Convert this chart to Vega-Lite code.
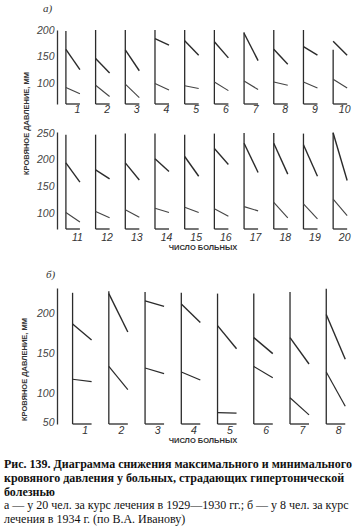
{
  "$schema": "https://vega.github.io/schema/vega-lite/v6.json",
  "background": "white",
  "padding": {"left": 4, "top": 3, "right": 2, "bottom": 2},
  "datasets": {
    "a1": [
      {"patient": 1, "top": 198, "sys_before": 164, "sys_after": 126, "dia_before": 93, "dia_after": 81},
      {"patient": 2, "top": 200, "sys_before": 147, "sys_after": 120, "dia_before": 97, "dia_after": 76},
      {"patient": 3, "top": 200, "sys_before": 163, "sys_after": 124, "dia_before": 99, "dia_after": 74},
      {"patient": 4, "top": 200, "sys_before": 184, "sys_after": 172, "dia_before": 100, "dia_after": 88},
      {"patient": 5, "top": 200, "sys_before": 180, "sys_after": 153, "dia_before": 96, "dia_after": 91},
      {"patient": 6, "top": 200, "sys_before": 178, "sys_after": 148, "dia_before": 103, "dia_after": 87},
      {"patient": 7, "top": 196, "sys_before": 194, "sys_after": 143, "dia_before": 105, "dia_after": 89},
      {"patient": 8, "top": 200, "sys_before": 164, "sys_after": 136, "dia_before": 103, "dia_after": 97},
      {"patient": 9, "top": 200, "sys_before": 169, "sys_after": 153, "dia_before": 103, "dia_after": 92},
      {"patient": 10, "top": 163, "sys_before": 179, "sys_after": 153, "dia_before": 108, "dia_after": 92}
    ],
    "a2": [
      {"patient": 11, "top": 247, "sys_before": 194, "sys_after": 158, "dia_before": 101, "dia_after": 83},
      {"patient": 12, "top": 247, "sys_before": 181, "sys_after": 164, "dia_before": 103, "dia_after": 91},
      {"patient": 13, "top": 249, "sys_before": 194, "sys_after": 162, "dia_before": 106, "dia_after": 92},
      {"patient": 14, "top": 249, "sys_before": 202, "sys_after": 178, "dia_before": 109, "dia_after": 101},
      {"patient": 15, "top": 247, "sys_before": 206, "sys_after": 169, "dia_before": 111, "dia_after": 101},
      {"patient": 16, "top": 249, "sys_before": 221, "sys_after": 191, "dia_before": 108, "dia_after": 94},
      {"patient": 17, "top": 250, "sys_before": 231, "sys_after": 176, "dia_before": 112, "dia_after": 104},
      {"patient": 18, "top": 250, "sys_before": 231, "sys_after": 173, "dia_before": 120, "dia_after": 91},
      {"patient": 19, "top": 249, "sys_before": 228, "sys_after": 169, "dia_before": 117, "dia_after": 89},
      {"patient": 20, "top": 251, "sys_before": 250, "sys_after": 161, "dia_before": 126, "dia_after": 95}
    ],
    "b": [
      {"patient": 1, "top": 226, "sys_before": 187, "sys_after": 167, "dia_before": 118, "dia_after": 115},
      {"patient": 2, "top": 228, "sys_before": 225, "sys_after": 177, "dia_before": 134, "dia_after": 105},
      {"patient": 3, "top": 227, "sys_before": 216, "sys_after": 209, "dia_before": 132, "dia_after": 125},
      {"patient": 4, "top": 226, "sys_before": 212, "sys_after": 189, "dia_before": 127, "dia_after": 117},
      {"patient": 5, "top": 225, "sys_before": 185, "sys_after": 156, "dia_before": 67, "dia_after": 66},
      {"patient": 6, "top": 225, "sys_before": 170, "sys_after": 150, "dia_before": 134, "dia_after": 120},
      {"patient": 7, "top": 227, "sys_before": 170, "sys_after": 137, "dia_before": 93, "dia_after": 63},
      {"patient": 8, "top": 231, "sys_before": 199, "sys_after": 143, "dia_before": 127, "dia_after": 78}
    ]
  },
  "title": {
    "text": ["Рис. 139. Диаграмма снижения максимального и минимального", "кровяного давления у больных, страдающих гипертонической", "болезнью"],
    "subtitle": ["а — у 20 чел. за курс лечения в 1929—1930 гг.; б — у 8 чел. за курс", "лечения в 1934 г. (по В.А. Иванову)"],
    "orient": "bottom",
    "anchor": "start",
    "frame": "bounds",
    "offset": 15,
    "dx": -16,
    "font": "Liberation Serif",
    "fontSize": 12,
    "fontWeight": "bold",
    "lineHeight": 14,
    "color": "#111",
    "subtitleFont": "Liberation Serif",
    "subtitleFontSize": 12,
    "subtitleFontWeight": "normal",
    "subtitleLineHeight": 14,
    "subtitleColor": "#111",
    "subtitlePadding": 1
  },
  "config": {
    "view": {"stroke": null},
    "axis": {"grid": false, "ticks": false, "labelOverlap": false},
    "axisY": {
      "domain": true, "domainColor": "#333", "domainWidth": 1.3, "tickCount": 10,
      "labelFont": "Liberation Sans", "labelFontStyle": "italic", "labelFontSize": 10.5, "labelColor": "#444", "labelPadding": 3,
      "titleFont": "Liberation Sans", "titleFontWeight": "bold", "titleFontSize": 7.5, "titleColor": "#333",
      "titleAngle": 270, "titleAlign": "center", "titleBaseline": "middle"
    },
    "axisX": {
      "domain": false, "labelFont": "Liberation Sans", "labelFontStyle": "italic", "labelFontSize": 10.5, "labelColor": "#333", "labelOffset": 11,
      "titleFont": "Liberation Sans", "titleFontWeight": "bold", "titleFontSize": 7.5, "titleColor": "#333"
    },
    "rule": {"color": "#2b2b2b", "strokeWidth": 1.3}
  },
  "spacing": 18,
  "vconcat": [
    {
      "spacing": 28,
      "bounds": "flush",
      "vconcat": [
        {
          "width": 291, "height": 74,
          "title": {"text": "а)", "anchor": "start", "frame": "group", "dx": -14, "offset": 11, "font": "Liberation Serif", "fontStyle": "italic", "fontWeight": "normal", "fontSize": 11, "color": "#333"},
          "data": {"name": "a1"},
          "encoding": {
            "x": {"field": "patient", "type": "quantitative", "scale": {"domain": [0.7, 10.5], "zero": false, "nice": false},
                  "axis": {"values": [1, 2, 3, 4, 5, 6, 7, 8, 9, 10], "format": "d", "title": null, "labelPadding": 0}}
          },
          "layer": [
            {"mark": {"type": "rule"},
             "encoding": {"y": {"field": "top", "type": "quantitative", "scale": {"domain": [62, 200], "zero": false, "nice": false},
                                "axis": {"values": [100, 150, 200], "tickCount": 10, "labelOverlap": false, "title": "КРОВЯНОЕ ДАВЛЕНИЕ, ММ", "titleX": -31, "titleY": 93}},
                          "y2": {"datum": 62}}},
            {"mark": {"type": "rule", "x2Offset": 14}, "encoding": {"x2": {"field": "patient"}, "y": {"datum": 62, "type": "quantitative", "axis": {"values": [100, 150, 200], "tickCount": 10, "labelOverlap": false, "title": "КРОВЯНОЕ ДАВЛЕНИЕ, ММ", "titleX": -31, "titleY": 93}}}},
            {"mark": {"type": "rule", "x2Offset": 14, "strokeWidth": 1.4}, "encoding": {"x2": {"field": "patient"}, "y": {"field": "sys_before", "type": "quantitative", "axis": {"values": [100, 150, 200], "tickCount": 10, "labelOverlap": false, "title": "КРОВЯНОЕ ДАВЛЕНИЕ, ММ", "titleX": -31, "titleY": 93}}, "y2": {"field": "sys_after"}}},
            {"mark": {"type": "rule", "x2Offset": 14, "strokeWidth": 1.1, "color": "#444"}, "encoding": {"x2": {"field": "patient"}, "y": {"field": "dia_before", "type": "quantitative", "axis": {"values": [100, 150, 200], "tickCount": 10, "labelOverlap": false, "title": "КРОВЯНОЕ ДАВЛЕНИЕ, ММ", "titleX": -31, "titleY": 93}}, "y2": {"field": "dia_after"}}}
          ]
        },
        {
          "width": 291, "height": 97,
          "data": {"name": "a2"},
          "encoding": {
            "x": {"field": "patient", "type": "quantitative", "scale": {"domain": [10.7, 20.5], "zero": false, "nice": false},
                  "axis": {"values": [11, 12, 13, 14, 15, 16, 17, 18, 19, 20], "format": "d", "title": "ЧИСЛО БОЛЬНЫХ", "labelPadding": 3, "titlePadding": 1}}
          },
          "layer": [
            {"mark": {"type": "rule"},
             "encoding": {"y": {"field": "top", "type": "quantitative", "scale": {"domain": [70, 252], "zero": false, "nice": false},
                                "axis": {"values": [100, 150, 200, 250], "tickCount": 10, "labelOverlap": false, "title": null}},
                          "y2": {"datum": 70}}},
            {"mark": {"type": "rule", "x2Offset": 14}, "encoding": {"x2": {"field": "patient"}, "y": {"datum": 70, "type": "quantitative", "axis": {"values": [100, 150, 200, 250], "tickCount": 10, "labelOverlap": false, "title": null}}}},
            {"mark": {"type": "rule", "x2Offset": 14, "strokeWidth": 1.4}, "encoding": {"x2": {"field": "patient"}, "y": {"field": "sys_before", "type": "quantitative", "axis": {"values": [100, 150, 200, 250], "tickCount": 10, "labelOverlap": false, "title": null}}, "y2": {"field": "sys_after"}}},
            {"mark": {"type": "rule", "x2Offset": 14, "strokeWidth": 1.1, "color": "#444"}, "encoding": {"x2": {"field": "patient"}, "y": {"field": "dia_before", "type": "quantitative", "axis": {"values": [100, 150, 200, 250], "tickCount": 10, "labelOverlap": false, "title": null}}, "y2": {"field": "dia_after"}}}
          ]
        }
      ]
    },
    {
      "width": 291, "height": 136,
      "title": {"text": "б)", "anchor": "start", "frame": "group", "dx": -11, "offset": 8, "font": "Liberation Serif", "fontStyle": "italic", "fontWeight": "normal", "fontSize": 11, "color": "#333"},
      "data": {"name": "b"},
      "encoding": {
        "x": {"field": "patient", "type": "quantitative", "scale": {"domain": [0.57, 8.6], "zero": false, "nice": false},
              "axis": {"values": [1, 2, 3, 4, 5, 6, 7, 8], "format": "d", "title": "ЧИСЛО БОЛЬНЫХ", "labelPadding": 1, "titlePadding": 1, "labelOffset": 12}}
      },
      "layer": [
        {"mark": {"type": "rule"},
         "encoding": {"y": {"field": "top", "type": "quantitative", "scale": {"domain": [47, 100, 150, 200, 232], "range": [136, 105.7, 65.6, 25.6, 0], "zero": false, "nice": false},
                            "axis": {"values": [50, 100, 150, 200], "tickCount": 10, "labelOverlap": false, "title": "КРОВЯНОЕ ДАВЛЕНИЕ, ММ", "titleX": -33, "titleY": 81}},
                      "y2": {"datum": 47}}},
        {"mark": {"type": "rule", "x2Offset": 19}, "encoding": {"x2": {"field": "patient"}, "y": {"datum": 47, "type": "quantitative", "axis": {"values": [50, 100, 150, 200], "tickCount": 10, "labelOverlap": false, "title": "КРОВЯНОЕ ДАВЛЕНИЕ, ММ", "titleX": -33, "titleY": 81}}}},
        {"mark": {"type": "rule", "x2Offset": 19, "strokeWidth": 1.4}, "encoding": {"x2": {"field": "patient"}, "y": {"field": "sys_before", "type": "quantitative", "axis": {"values": [50, 100, 150, 200], "tickCount": 10, "labelOverlap": false, "title": "КРОВЯНОЕ ДАВЛЕНИЕ, ММ", "titleX": -33, "titleY": 81}}, "y2": {"field": "sys_after"}}},
        {"mark": {"type": "rule", "x2Offset": 19, "strokeWidth": 1.2}, "encoding": {"x2": {"field": "patient"}, "y": {"field": "dia_before", "type": "quantitative", "axis": {"values": [50, 100, 150, 200], "tickCount": 10, "labelOverlap": false, "title": "КРОВЯНОЕ ДАВЛЕНИЕ, ММ", "titleX": -33, "titleY": 81}}, "y2": {"field": "dia_after"}}}
      ]
    }
  ]
}
